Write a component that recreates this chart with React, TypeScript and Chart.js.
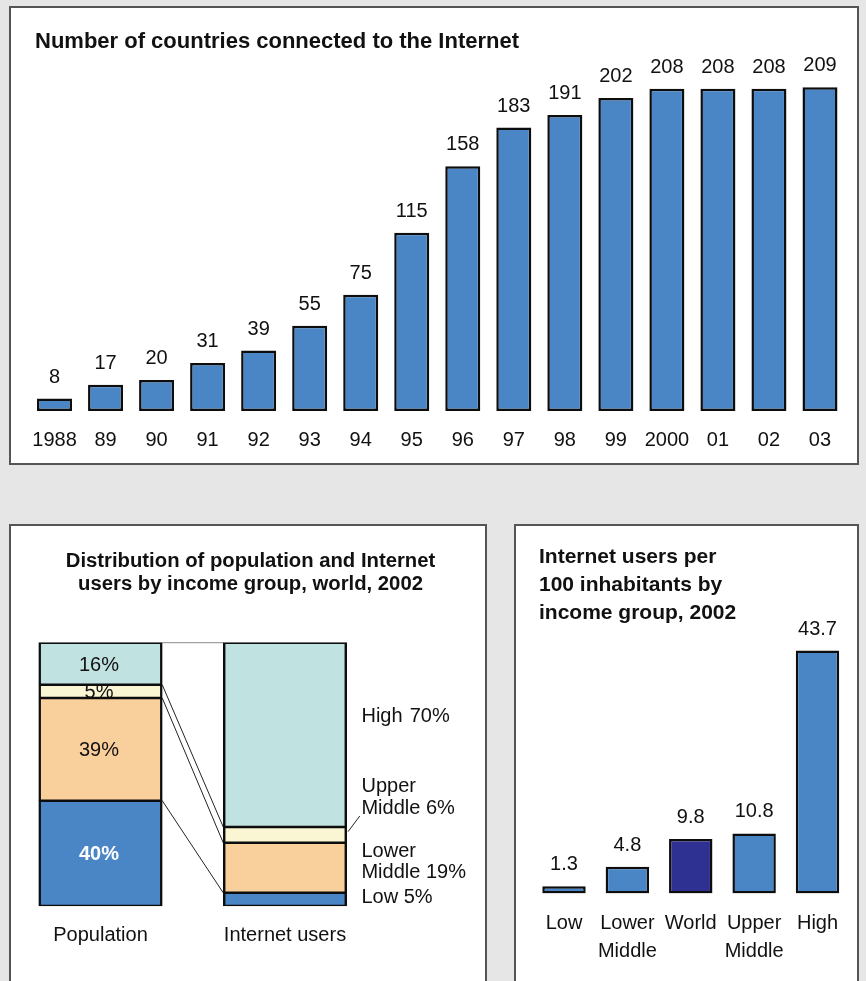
import React, { useEffect, useRef } from "react";
import { Chart, registerables } from "chart.js";
Chart.register(...registerables);

const FONT = '"Liberation Sans", Arial, Helvetica, sans-serif';
const TEXT = "#111111";
const BLUE = "#4a86c5";
const NAVY = "#2e3192";
const EDGE = "#0d0d0d";
const PEACH = "#f9cf9b";
const CREAM = "#faf5d3";
const TEAL = "#c0e2e0";

// ---- Panel 1: countries connected ----
const chart1Title = "Number of countries connected to the Internet";
const years = ["1988", "89", "90", "91", "92", "93", "94", "95", "96", "97", "98", "99", "2000", "01", "02", "03"];
const countries = [8, 17, 20, 31, 39, 55, 75, 115, 158, 183, 191, 202, 208, 208, 208, 209];

// ---- Panel 2: distribution by income group ----
const chart2Title = ["Distribution of population and Internet", "users by income group, world, 2002"];
const distCategories = ["Population", "Internet users"];
const incomeGroups = ["Low", "Lower Middle", "Upper Middle", "High"];
const lowShare = [40, 5];
const lowerMiddleShare = [39, 19];
const upperMiddleShare = [5, 6];
const highShare = [16, 70];

// ---- Panel 3: users per 100 inhabitants ----
const chart3Title = ["Internet users per", "100 inhabitants by", "income group, 2002"];
const groupLabels = [["Low"], ["Lower", "Middle"], ["World"], ["Upper", "Middle"], ["High"]];
const usersPer100 = [1.3, 4.8, 9.8, 10.8, 43.7];

Chart.defaults.font.family = FONT;
Chart.defaults.color = TEXT;

function ChartBox({ x, y, w, h, build }: any) {
  const ref = useRef<HTMLCanvasElement>(null);
  useEffect(() => {
    const c = new Chart(ref.current as HTMLCanvasElement, build());
    return () => c.destroy();
  }, []);
  return (
    <canvas
      ref={ref}
      width={w}
      height={h}
      style={{ position: "absolute", left: x, top: y, width: w, height: h, display: "block" }}
    />
  );
}

const xAxisBase = (padding: number, lineHeight = 1.2) => ({
  grid: { display: false, drawTicks: false },
  border: { display: false },
  ticks: {
    padding,
    autoSkip: false,
    maxRotation: 0,
    minRotation: 0,
    color: TEXT,
    font: { size: 20, family: FONT, lineHeight },
  },
});

function build1(): any {
  return {
    type: "bar",
    data: {
      labels: years,
      datasets: [
        {
          data: countries,
          backgroundColor: BLUE,
          borderColor: EDGE,
          borderWidth: 2.5,
          borderSkipped: false,
          barPercentage: 0.686,
          categoryPercentage: 1,
        },
      ],
    },
    options: {
      responsive: false,
      animation: false,
      layout: { padding: { left: 18, right: 11.5, top: 31.2, bottom: 12 } },
      plugins: { legend: { display: false }, tooltip: { enabled: false }, title: { display: false } },
      scales: {
        x: xAxisBase(17),
        y: { display: false, min: 0, max: 240 },
      },
    },
    plugins: [
      {
        id: "labels1",
        afterDatasetsDraw(chart: any) {
          const ctx = chart.ctx;
          const meta = chart.getDatasetMeta(0);
          ctx.save();
          ctx.fillStyle = TEXT;
          ctx.font = `20px ${FONT}`;
          ctx.textAlign = "center";
          ctx.textBaseline = "alphabetic";
          meta.data.forEach((bar: any, i: number) => {
            ctx.fillText(String(countries[i]), bar.x, bar.y - 16);
          });
          ctx.font = `bold 22px ${FONT}`;
          ctx.textAlign = "left";
          ctx.fillText(chart1Title, 24, 39.7);
          ctx.restore();
        },
      },
    ],
  };
}

function build2(): any {
  const common = {
    borderColor: EDGE,
    borderWidth: { top: 1.6, bottom: 1.6, left: 2.5, right: 2.5 },
    borderSkipped: false,
    barThickness: 123.5,
    clip: false,
  };
  return {
    type: "bar",
    data: {
      labels: distCategories,
      datasets: [
        { label: incomeGroups[0], data: lowShare, backgroundColor: BLUE, ...common },
        { label: incomeGroups[1], data: lowerMiddleShare, backgroundColor: PEACH, ...common },
        { label: incomeGroups[2], data: upperMiddleShare, backgroundColor: CREAM, ...common },
        { label: incomeGroups[3], data: highShare, backgroundColor: TEAL, ...common },
      ],
    },
    options: {
      responsive: false,
      animation: false,
      layout: { padding: { left: 89.5, right: 200, top: 116.7, bottom: 35 } },
      plugins: { legend: { display: false }, tooltip: { enabled: false }, title: { display: false } },
      scales: {
        x: { ...xAxisBase(17), stacked: true, offset: false },
        y: { display: false, stacked: true, min: 0, max: 100 },
      },
    },
    plugins: [
      {
        id: "connectors",
        beforeDatasetsDraw(chart: any) {
          const ctx = chart.ctx;
          ctx.save();
          ctx.lineWidth = 1;
          for (let d = 0; d < 4; d++) {
            const meta = chart.getDatasetMeta(d);
            const p = meta.data[0];
            const u = meta.data[1];
            ctx.strokeStyle = d === 3 ? "#8a8a8a" : "#222";
            ctx.beginPath();
            ctx.moveTo(p.x + p.width / 2, p.y);
            ctx.lineTo(u.x - u.width / 2, u.y);
            ctx.stroke();
          }
          ctx.restore();
        },
        afterDatasetsDraw(chart: any) {
          const ctx = chart.ctx;
          ctx.save();
          ctx.textBaseline = "alphabetic";
          // labels inside population bar
          ctx.textAlign = "center";
          for (let d = 0; d < 4; d++) {
            const ds = chart.data.datasets[d];
            const bar = chart.getDatasetMeta(d).data[0];
            const cy = (bar.y + bar.base) / 2;
            if (d === 0) {
              ctx.font = `bold 20px ${FONT}`;
              ctx.fillStyle = "#ffffff";
            } else {
              ctx.font = `20px ${FONT}`;
              ctx.fillStyle = TEXT;
            }
            ctx.fillText(`${ds.data[0]}%`, bar.x - 1.5, cy + 7);
          }
          // labels right of internet users bar
          const ub = chart.getDatasetMeta(3).data[1];
          const rx = ub.x + ub.width / 2 + 14.7;
          ctx.font = `20px ${FONT}`;
          ctx.fillStyle = TEXT;
          ctx.textAlign = "left";
          const up = incomeGroups[2].split(" ");
          const lo = incomeGroups[1].split(" ");
          ctx.fillText(incomeGroups[3], rx, 195.7);
          ctx.fillText(`${highShare[1]}%`, rx + 48.3, 195.7);
          ctx.fillText(up[0], rx, 265.7);
          ctx.fillText(`${up[1]} ${upperMiddleShare[1]}%`, rx, 288);
          ctx.fillText(lo[0], rx, 330.7);
          ctx.fillText(`${lo[1]} ${lowerMiddleShare[1]}%`, rx, 352.3);
          ctx.fillText(`${incomeGroups[0]} ${lowShare[1]}%`, rx, 377.3);
          // leader line for upper middle
          ctx.strokeStyle = "#222";
          ctx.lineWidth = 1;
          ctx.beginPath();
          ctx.moveTo(ub.x + ub.width / 2 + 1.3, 305.7);
          ctx.lineTo(rx - 1.7, 290);
          ctx.stroke();
          // title
          ctx.font = `bold 20.3px ${FONT}`;
          ctx.textAlign = "center";
          ctx.fillText(chart2Title[0], 239.5, 41.3);
          ctx.fillText(chart2Title[1], 239.5, 64);
          ctx.restore();
        },
      },
    ],
  };
}

function build3(): any {
  return {
    type: "bar",
    data: {
      labels: groupLabels,
      datasets: [
        {
          data: usersPer100,
          backgroundColor: groupLabels.map((l) => (l[0] === "World" ? NAVY : BLUE)),
          borderColor: EDGE,
          borderWidth: 2.5,
          borderSkipped: false,
          barPercentage: 0.685,
          categoryPercentage: 1,
        },
      ],
    },
    options: {
      responsive: false,
      animation: false,
      layout: { padding: { left: 16.3, right: 7.8, top: 89.5, bottom: 18.5 } },
      plugins: { legend: { display: false }, tooltip: { enabled: false }, title: { display: false } },
      scales: {
        x: xAxisBase(15.5, 1.4),
        y: { display: false, min: 0, max: 50 },
      },
    },
    plugins: [
      {
        id: "labels3",
        afterDatasetsDraw(chart: any) {
          const ctx = chart.ctx;
          const meta = chart.getDatasetMeta(0);
          ctx.save();
          ctx.fillStyle = TEXT;
          ctx.font = `20px ${FONT}`;
          ctx.textAlign = "center";
          ctx.textBaseline = "alphabetic";
          meta.data.forEach((bar: any, i: number) => {
            ctx.fillText(usersPer100[i].toFixed(1), bar.x, bar.y - 16);
          });
          ctx.font = `bold 21px ${FONT}`;
          ctx.textAlign = "left";
          chart3Title.forEach((t, i) => ctx.fillText(t, 23, 36.7 + i * 28));
          ctx.restore();
        },
      },
    ],
  };
}

const panelStyle = (left: number, top: number, width: number, height: number): React.CSSProperties => ({
  position: "absolute",
  left,
  top,
  width,
  height,
  boxSizing: "border-box",
  border: "2px solid #555555",
  background: "#ffffff",
});

export default function App() {
  useEffect(() => {
    document.body.style.margin = "0";
    document.body.style.overflow = "hidden";
    document.body.style.background = "#e6e6e6";
  }, []);
  return (
    <div style={{ position: "relative", width: 866, height: 981, overflow: "hidden", background: "#e6e6e6" }}>
      <div style={panelStyle(9, 6, 850, 459)} />
      <div style={panelStyle(9, 524, 478, 470)} />
      <div style={panelStyle(514, 524, 345, 470)} />
      <ChartBox x={11} y={8} w={846} h={473} build={build1} />
      <ChartBox x={11} y={526} w={474} h={473} build={build2} />
      <ChartBox x={516} y={526} w={341} h={473} build={build3} />
    </div>
  );
}
